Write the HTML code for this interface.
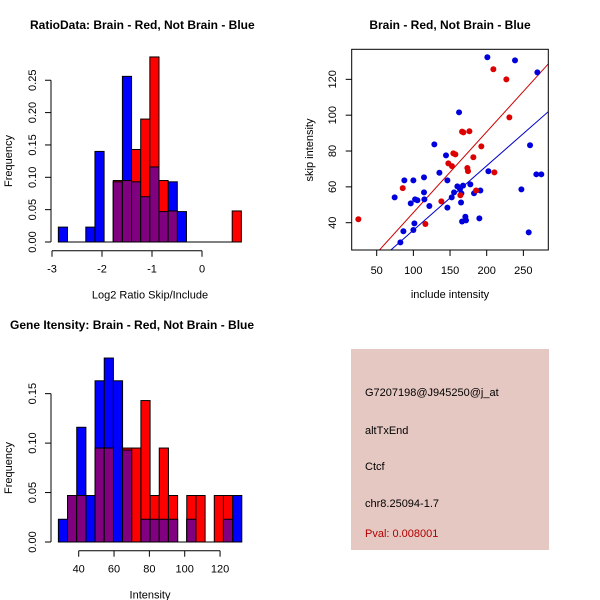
<!DOCTYPE html>
<html><head><meta charset="utf-8"><style>
html,body{margin:0;padding:0;background:#fff}
svg{display:block;font-family:"Liberation Sans",Arial,sans-serif}
</style></head><body>
<svg id="c" width="600" height="600" viewBox="0 0 600 600">
<rect x="0" y="0" width="600" height="600" fill="#fff"/>
<g id="p1"></g>
<g id="p2"></g>
<g id="p3"></g>
<g id="p4">
<rect x="351" y="349" width="198" height="201" fill="#e6c8c2"/>
<text x="365" y="396" font-size="11">G7207198@J945250@j_at</text>
<text x="365" y="434" font-size="11">altTxEnd</text>
<text x="365" y="470" font-size="11">Ctcf</text>
<text x="365" y="507" font-size="11">chr8.25094-1.7</text>
<text x="365" y="537" font-size="11" fill="#b00000">Pval: 0.008001</text>
</g>
</svg>
<script>
// ---- Histogram 1 data (Log2 ratio) ----
const h1BinStart = -2.873;
const h1BinWidth = 0.183;
const h1Blue = [0.023,0,0,0.023,0.14,0,0.093,0.256,0.093,0.07,0.116,0.047,0.093,0.047,0,0,0,0,0,0];
const h1Red  = [0,0,0,0,0,0,0.095,0.095,0.143,0.19,0.286,0.095,0.048,0,0,0,0,0,0,0.048];
const h1XTicks = [-3,-2,-1,0];
const h1YTicks = [0,0.05,0.10,0.15,0.20,0.25];
const h1YLabels = ["0.00","0.05","0.10","0.15","0.20","0.25"];
// ---- Histogram 2 data (Intensity) ----
const h2BinStart = 28.5;
const h2BinWidth = 5.19;
const h2Blue = [0.023,0.047,0.116,0.047,0.163,0.186,0.163,0.093,0,0.023,0.023,0.023,0.023,0,0.023,0,0,0,0.023,0.047];
const h2Red  = [0,0.047,0.047,0,0.095,0.095,0,0.095,0.095,0.143,0.047,0.095,0.047,0,0.047,0.047,0,0.047,0.047,0];
const h2XTicks = [40,60,80,100,120];
const h2YTicks = [0,0.05,0.10,0.15];
const h2YLabels = ["0.00","0.05","0.10","0.15"];
// ---- Scatter data ----
const blueX = [200.9,238.6,269.1,162.3,259.1,128.6,144.5,87.7,100,114.5,135.5,146.4,202.3,177.7,160,167.7,163.6,155.5,165.5,114.5,191.4,182.7,152.3,102.3,96.4,105.5,121.8,115,74.5,146.4,165,170.9,171.8,166.4,190,101.4,100,86.4,82.3,247.3,267.7,274.5,257.3];
const blueY = [132.3,130.6,123.9,101.6,83.2,83.7,77.6,63.6,63.6,65.3,67.9,63.6,68.7,61.4,60.3,60.7,58.8,56.9,56.4,56.9,58,56.4,54.1,53,50.8,52.5,49.3,53,54.1,48.4,51.3,43.3,41.3,40.7,42.4,39.6,35.9,35.2,29,58.6,67,67,34.6];
const redX = [209.1,226.8,230.9,166.4,168.2,176.4,192.7,181.8,154.5,157.3,147.7,152.7,173.6,174.5,210.5,85.5,164.1,185.5,138.2,116.4,25];
const redY = [125.6,120,98.8,90.8,90.4,91,82.6,76.5,78.7,78.1,73.1,71.6,70.5,68.8,68.1,59.3,55.3,58,51.9,39.3,41.9];
const redFit = [0.52,0.451];
const blueFit = [-0.14,0.3595];
const scXTicks = [50,100,150,200,250];
const scYTicks = [40,60,80,100,120];

const NS="http://www.w3.org/2000/svg";
function mk(parent,tag,attrs){const e=document.createElementNS(NS,tag);for(const k in attrs)e.setAttribute(k,attrs[k]);parent.appendChild(e);return e;}
function txt(parent,x,y,s,size,opts){const t=mk(parent,'text',Object.assign({x:x,y:y,'font-size':size,'text-anchor':'middle'},opts||{}));t.textContent=s;return t;}

function hist(g,title,tx,blue,red,start,w,sx,sy,x0,y0,xTicks,yTicks,yLabels,xAxisY,xlabel,ytop){
  const t=txt(g,tx,29,title,12,{'text-anchor':'start','font-weight':'bold'});
  
  
  const X=v=>x0+(v-start)*sx, Y=v=>y0-v*sy;
  for(let i=0;i<blue.length;i++){
    const a=X(start+i*w), b=X(start+(i+1)*w);
    if(blue[i]>0){const r=mk(g,'rect',{x:a,y:Y(blue[i]),width:b-a,height:blue[i]*sy,fill:'#0000ff',stroke:'#000','stroke-width':1});
      
      }
  }
  for(let i=0;i<red.length;i++){
    const a=X(start+i*w), b=X(start+(i+1)*w);
    if(red[i]>0){const r=mk(g,'rect',{x:a,y:Y(red[i]),width:b-a,height:red[i]*sy,fill:'#ff0000',stroke:'#000','stroke-width':1});
      
      }
    const m=Math.min(red[i],blue[i]);
    if(m>0){const r=mk(g,'rect',{x:a,y:Y(m),width:b-a,height:m*sy,fill:'#800080',stroke:'#000','stroke-width':1});
      
      }
  }
  mk(g,'line',{x1:X(start),x2:X(start+blue.length*w),y1:y0,y2:y0,stroke:'#000'});
  const xa=X(xTicks[0]),xb=X(xTicks[xTicks.length-1]);
  mk(g,'line',{x1:xa,x2:xb,y1:xAxisY,y2:xAxisY,stroke:'#000'});
  xTicks.forEach(v=>{mk(g,'line',{x1:X(v),x2:X(v),y1:xAxisY,y2:xAxisY+6,stroke:'#000'});
    const l=txt(g,X(v),xAxisY+22,String(v),11);
    
    });
  const ax=51;
  mk(g,'line',{x1:ax,x2:ax,y1:Y(0),y2:Y(yTicks[yTicks.length-1]),stroke:'#000'});
  yTicks.forEach((v,i)=>{mk(g,'line',{x1:ax,x2:ax-6,y1:Y(v),y2:Y(v),stroke:'#000'});
    const l=txt(g,0,0,yLabels[i],11,{transform:`translate(36,${Y(v)}) rotate(-90)`});
    
    });
  const xt=txt(g,150,y0+56+(xAxisY-y0-8),xlabel,11);
  
  
  const yt=txt(g,0,0,'Frequency',11,{transform:`translate(12,${(Y(0)+ytop)/2}) rotate(-90)`});
  
  
}
const g1=document.getElementById('p1');
hist(g1,'RatioData: Brain - Red, Not Brain - Blue',30,h1Blue,h1Red,h1BinStart,h1BinWidth,50,647,52+(h1BinStart+3)*50,242,h1XTicks,h1YTicks,h1YLabels,250.7,'Log2 Ratio Skip/Include',80);
const g3=document.getElementById('p3');
g3.setAttribute('transform','translate(0,300)');
hist(g3,'Gene Itensity: Brain - Red, Not Brain - Blue',10,h2Blue,h2Red,h2BinStart,h2BinWidth,1.767,989,78.7+(h2BinStart-40)*1.767,242,h2XTicks,h2YTicks,h2YLabels,250.7,'Intensity',94);

const g2=document.getElementById('p2');
const SX=v=>376.7+(v-50)*0.7333, SY=v=>222.7-(v-40)*1.792;
const st=txt(g2,450,29,'Brain - Red, Not Brain - Blue',12,{'font-weight':'bold'});


const cp=mk(g2,'clipPath',{id:'clip'});mk(cp,'rect',{x:351.7,y:49.3,width:196.6,height:200.7});
const lg=mk(g2,'g',{'clip-path':'url(#clip)'});
[[redFit,'#cc0000','fit-line-red'],[blueFit,'#0000cc','fit-line-blue']].forEach(([f,c,n])=>{
  const xa=0,xb=320;
  const l=mk(lg,'line',{x1:SX(xa),y1:SY(f[0]+f[1]*xa),x2:SX(xb),y2:SY(f[0]+f[1]*xb),stroke:c,'stroke-width':1});
  
  
});
blueX.forEach((x,i)=>{const c=mk(g2,'circle',{cx:SX(x),cy:SY(blueY[i]),r:3,fill:'#0000dd'});
  
  });
redX.forEach((x,i)=>{const c=mk(g2,'circle',{cx:SX(x),cy:SY(redY[i]),r:3,fill:'#dd0000'});
  
  });
mk(g2,'rect',{x:351.7,y:49.3,width:196.6,height:200.7,fill:'none',stroke:'#000'});
scXTicks.forEach(v=>{mk(g2,'line',{x1:SX(v),x2:SX(v),y1:250,y2:256,stroke:'#000'});
  const l=txt(g2,SX(v),274,String(v),11);
  
  });
scYTicks.forEach(v=>{mk(g2,'line',{x1:351.7,x2:345.7,y1:SY(v),y2:SY(v),stroke:'#000'});
  const l=txt(g2,0,0,String(v),11,{transform:`translate(336,${SY(v)}) rotate(-90)`});
  
  });
const sxt=txt(g2,450,298,'include intensity',11);


const syt=txt(g2,0,0,'skip intensity',11,{transform:'translate(313,150) rotate(-90)'});


</script>
</body></html>
